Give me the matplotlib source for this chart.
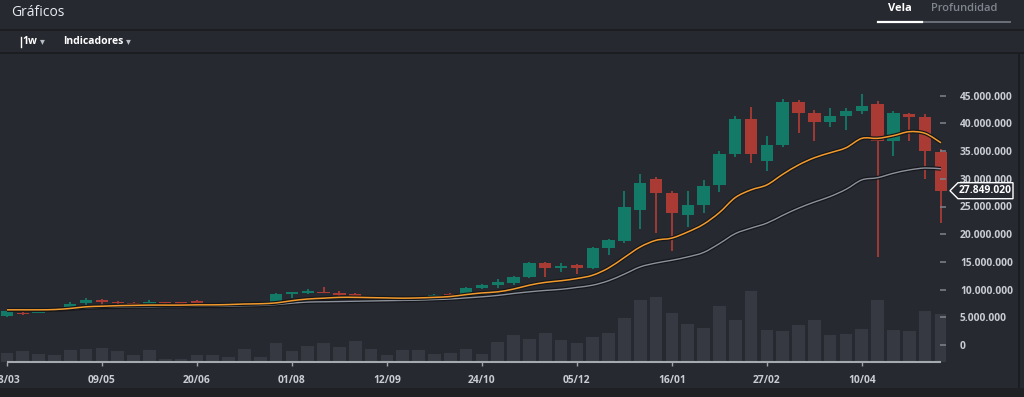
import matplotlib
matplotlib.use('Agg')
import matplotlib.pyplot as plt
import matplotlib.patheffects as pe
from matplotlib.patches import Polygon, Rectangle, PathPatch
from matplotlib.path import Path
from matplotlib.lines import Line2D
from matplotlib.ticker import FuncFormatter, FixedLocator

# ---------------- data (prices in millions) ----------------
date_labels = ['28/03', '09/05', '20/06', '01/08', '12/09', '24/10',
               '05/12', '16/01', '27/02', '10/04']
label_step = 6  # one label every 6 weekly candles

opens = [5.29, 5.83, 5.83, 6.10, 6.50, 7.50, 8.10, 7.80, 7.60, 7.40,
         7.75, 7.60, 7.90, 7.45, 7.30, 7.40, 7.25, 7.70, 9.20, 9.45,
         9.60, 9.40, 9.25, 8.55, 8.20, 8.60, 8.60, 8.65, 9.15, 9.15,
         10.25, 10.80, 11.25, 12.30, 14.75, 13.85, 14.40, 13.85, 17.45, 18.80,
         24.35, 29.90, 27.40, 23.45, 25.25, 28.90, 34.40, 40.80, 33.30, 36.10,
         43.90, 41.80, 40.25, 41.30, 42.30, 43.50, 36.80, 41.75, 41.15, 34.90]
closes = [6.08, 5.60, 6.19, 6.25, 7.45, 8.10, 7.75, 7.50, 7.35, 7.75,
          7.50, 7.45, 7.60, 7.30, 7.45, 7.25, 7.35, 9.15, 9.50, 9.75,
          9.40, 9.10, 8.55, 8.20, 8.50, 8.40, 8.40, 9.00, 8.90, 10.25,
          10.80, 11.35, 12.30, 14.75, 13.85, 14.25, 13.85, 17.45, 18.95, 24.85,
          29.30, 27.40, 23.80, 25.25, 28.70, 34.40, 40.80, 34.40, 36.10, 43.90,
          41.80, 40.25, 41.30, 42.30, 43.10, 36.80, 41.80, 41.15, 35.00, 27.84902]
highs = [6.20, 6.25, 6.30, 6.35, 7.75, 8.55, 8.30, 8.00, 7.70, 8.10,
         7.85, 7.70, 8.05, 7.65, 7.55, 7.50, 7.45, 9.30, 9.60, 10.05,
         10.40, 9.70, 9.30, 8.65, 8.60, 8.75, 8.70, 9.25, 9.35, 10.40,
         11.00, 11.90, 12.50, 15.00, 15.00, 14.85, 14.65, 17.60, 19.20, 27.85,
         30.80, 30.40, 27.80, 27.80, 29.80, 35.00, 41.30, 42.90, 37.70, 44.35,
         44.30, 42.40, 42.80, 42.70, 45.30, 44.10, 42.30, 41.90, 41.70, 35.30]
lows = [5.05, 5.50, 5.70, 6.00, 6.40, 7.30, 6.80, 7.40, 7.25, 7.30,
        7.40, 7.35, 7.50, 7.20, 7.20, 7.15, 7.15, 7.60, 8.55, 9.20,
        9.30, 8.80, 8.10, 8.10, 8.10, 8.10, 8.30, 8.55, 8.80, 9.05,
        10.10, 10.20, 10.80, 12.10, 12.30, 13.10, 12.90, 13.70, 16.30, 18.50,
        20.90, 20.20, 17.00, 21.35, 23.90, 27.70, 34.00, 32.90, 31.40, 35.80,
        38.30, 36.80, 39.40, 38.80, 41.70, 15.90, 34.20, 36.80, 29.90, 22.00]
ma_fast = [6.35, 6.35, 6.35, 6.40, 6.60, 6.90, 7.00, 7.10, 7.15, 7.20,
           7.20, 7.20, 7.25, 7.25, 7.30, 7.40, 7.45, 7.60, 8.00, 8.30,
           8.45, 8.60, 8.60, 8.55, 8.50, 8.45, 8.50, 8.60, 8.75, 9.10,
           9.40, 9.60, 10.10, 10.80, 11.30, 11.60, 12.00, 12.60, 13.90, 15.80,
           17.70, 18.90, 19.30, 20.40, 21.80, 23.90, 26.60, 28.00, 28.90, 30.80,
           32.50, 33.80, 34.70, 35.60, 37.30, 37.30, 37.80, 38.50, 38.20, 36.50]
ma_slow = [6.30, 6.30, 6.30, 6.35, 6.50, 6.70, 6.80, 6.85, 6.90, 6.90,
           6.95, 6.95, 7.00, 7.00, 7.00, 7.10, 7.15, 7.30, 7.55, 7.75,
           7.80, 7.85, 7.90, 7.95, 8.00, 8.05, 8.10, 8.20, 8.30, 8.50,
           8.70, 8.95, 9.30, 9.60, 9.85, 10.05, 10.40, 10.80, 11.60, 12.80,
           14.10, 14.80, 15.30, 15.90, 16.70, 18.30, 20.10, 21.10, 22.00, 23.40,
           24.70, 25.80, 26.80, 28.10, 29.80, 30.20, 31.00, 31.60, 31.95, 31.80]
volume = [93, 110, 83, 73, 120, 130, 143, 110, 67, 120,
          30, 30, 73, 73, 53, 133, 50, 193, 113, 160,
          193, 153, 213, 130, 70, 123, 123, 80, 93, 133,
          83, 200, 270, 230, 293, 223, 193, 250, 290, 437,
          620, 650, 490, 380, 343, 560, 423, 710, 323, 307,
          370, 423, 270, 277, 327, 623, 323, 307, 510, 483]
last_price = 27849020
price_ticks = [0, 5, 10, 15, 20, 25, 30, 35, 40, 45]

# ---------------- style ----------------
W, H = 1024, 397
BG = '#262930'
SEP = '#1b1d21'
GREEN = '#137a68'
RED = '#a93b34'
ORANGE = '#f39a2c'
GREYLINE = '#8c919b'
VOLC = '#363941'
TXT = '#c9ccd2'
FONT = ['Open Sans', 'DejaVu Sans']
plt.rcParams['font.family'] = FONT

def fx(x):
    return x / W

def fy(y):
    return 1 - y / H

fig = plt.figure(figsize=(W / 100, H / 100), dpi=100)
fig.patch.set_facecolor(BG)

# layout in pixels
ax_left, ax_right, ax_top, ax_bottom = 0, 946, 60, 362
pos = [fx(ax_left), fy(ax_bottom), fx(ax_right) - fx(ax_left), fy(ax_top) - fy(ax_bottom)]

n = len(opens)
idx = list(range(n))
step_px = 15.83
first_px = 7.0
xlim = ((ax_left - first_px) / step_px, (ax_right - first_px) / step_px)
px_per_5m = 27.7
zero_px = 345.0
ylim = ((zero_px - ax_bottom) * 5 / px_per_5m * 1e6, (zero_px - ax_top) * 5 / px_per_5m * 1e6)

# volume axes (behind)
axv = fig.add_axes(pos)
axv.set_xlim(*xlim)
axv.set_ylim(0, (ax_bottom - ax_top) * 10)
axv.bar(idx, volume, width=0.8, color=VOLC, zorder=1)
axv.hlines(0, idx[0], idx[-1], color='#a5a9b0', lw=1.5, zorder=2, clip_on=False)
axv.set_axis_off()

# price axes (front)
ax = fig.add_axes(pos, sharex=axv)
ax.patch.set_alpha(0)
ax.set_xlim(*xlim)
ax.set_ylim(*ylim)
for s in ax.spines.values():
    s.set_visible(False)

o = [v * 1e6 for v in opens]
c = [v * 1e6 for v in closes]
hi = [v * 1e6 for v in highs]
lo = [v * 1e6 for v in lows]
cols = [GREEN if cc >= oo else RED for oo, cc in zip(o, c)]
ax.vlines(idx, lo, hi, colors=cols, lw=1.3, zorder=3, clip_on=False)
bottoms = [min(oo, cc) for oo, cc in zip(o, c)]
heights = [max(abs(cc - oo), 0.25e6) for oo, cc in zip(o, c)]
ax.bar(idx, heights, bottom=bottoms, width=0.78, color=cols, zorder=4, clip_on=False)


def smooth_curve(xs, ys):
    """Catmull-Rom style rendering through the given points."""
    m = len(xs)
    verts = [(xs[0], ys[0])]
    codes = [Path.MOVETO]
    for i in range(m - 1):
        a = i - 1 if i > 0 else i
        d = i + 2 if i + 2 < m else i + 1
        c1 = (xs[i] + (xs[i + 1] - xs[a]) / 6, ys[i] + (ys[i + 1] - ys[a]) / 6)
        c2 = (xs[i + 1] - (xs[d] - xs[i]) / 6, ys[i + 1] - (ys[d] - ys[i]) / 6)
        verts += [c1, c2, (xs[i + 1], ys[i + 1])]
        codes += [Path.CURVE4] * 3
    return Path(verts, codes)


stroke = [pe.Stroke(linewidth=2.8, foreground='#15171b'), pe.Normal()]
ax.add_patch(PathPatch(smooth_curve(idx, [v * 1e6 for v in ma_slow]), fill=False,
                       edgecolor=GREYLINE, lw=1.0, zorder=5, path_effects=stroke))
ax.add_patch(PathPatch(smooth_curve(idx, [v * 1e6 for v in ma_fast]), fill=False,
                       edgecolor=ORANGE, lw=1.1, zorder=6, path_effects=stroke))

# y axis on right
ax.yaxis.tick_right()
ax.yaxis.set_major_locator(FixedLocator([v * 1e6 for v in price_ticks]))
ax.yaxis.set_major_formatter(FuncFormatter(lambda v, p: f"{int(round(v)):,}".replace(',', '.')))
ax.tick_params(axis='y', which='both', direction='in', length=4.3, width=1.1,
               color='#80848c', pad=10, labelsize=7.4, labelcolor=TXT)
for lab in ax.get_yticklabels():
    lab.set_fontweight('bold')
ax.yaxis.set_zorder(10)

# x axis
xt = idx[::label_step]
ax.set_xticks(xt)
ax.set_xticklabels(date_labels[:len(xt)])
ax.tick_params(axis='x', direction='out', length=3, width=1, color='#a0a4ab',
               pad=6.5, labelsize=7.4, labelcolor=TXT)
for lab in ax.get_xticklabels():
    lab.set_fontweight('bold')

# current price label
trans = ax.get_yaxis_transform()
hh = 8 * 5 / px_per_5m * 1e6
axw = ax_right - ax_left
xa, xb, xc = (950 - ax_left) / axw, (958 - ax_left) / axw, (1013 - ax_left) / axw
poly = Polygon([(xa, last_price), (xb, last_price + hh), (xc, last_price + hh),
                (xc, last_price - hh), (xb, last_price - hh)], closed=True,
               transform=trans, facecolor=BG, edgecolor='white', lw=1, clip_on=False, zorder=20)
ax.add_patch(poly)
ax.text((xb + xc) / 2, last_price, f"{last_price:,}".replace(',', '.'), transform=trans,
        ha='center', va='center', color='white', fontsize=7.4, fontweight='bold',
        clip_on=False, zorder=21)

# ---------------- header / frame ----------------
def band(y0, y1, x0, x1, color):
    fig.add_artist(Rectangle((fx(x0), fy(y1)), fx(x1) - fx(x0), fy(y0) - fy(y1),
                             transform=fig.transFigure, facecolor=color, edgecolor='none'))

band(29, 31, 0, W, SEP)
band(52, 54, 0, W, SEP)
band(388, H, 0, W, '#1e2024')
band(54, 388, 1018, 1020, SEP)

fig.text(fx(11), fy(12), 'Gráficos', color='#e8eaed', fontsize=10, va='center', ha='left')
fig.add_artist(Line2D([fx(20.5), fx(20.5)], [fy(37), fy(47)], color='white', lw=1,
                      transform=fig.transFigure))
fig.text(fx(22), fy(42), '1w', color='white', fontsize=7.5, fontweight='bold', va='center', ha='left')
fig.text(fx(40), fy(42), '▾', color='#b8bcc3', fontsize=7, va='center', ha='left')
fig.text(fx(63), fy(42), 'Indicadores', color='white', fontsize=7.5, fontweight='bold',
         va='center', ha='left')
fig.text(fx(125.5), fy(42), '▾', color='#b8bcc3', fontsize=7, va='center', ha='left')

fig.text(fx(900), fy(8.5), 'Vela', color='white', fontsize=8, fontweight='bold', va='center', ha='center')
fig.text(fx(931), fy(8.5), 'Profundidad', color='#80848c', fontsize=8, fontweight='semibold',
         va='center', ha='left')
fig.add_artist(Line2D([fx(922), fx(1010)], [fy(21.5), fy(21.5)], color='#6b6f77', lw=1.4,
                      transform=fig.transFigure))
fig.add_artist(Line2D([fx(878), fx(922)], [fy(21.5), fy(21.5)], color='white', lw=1.6,
                      transform=fig.transFigure))

fig.savefig('out.png', dpi=100, facecolor=BG)
